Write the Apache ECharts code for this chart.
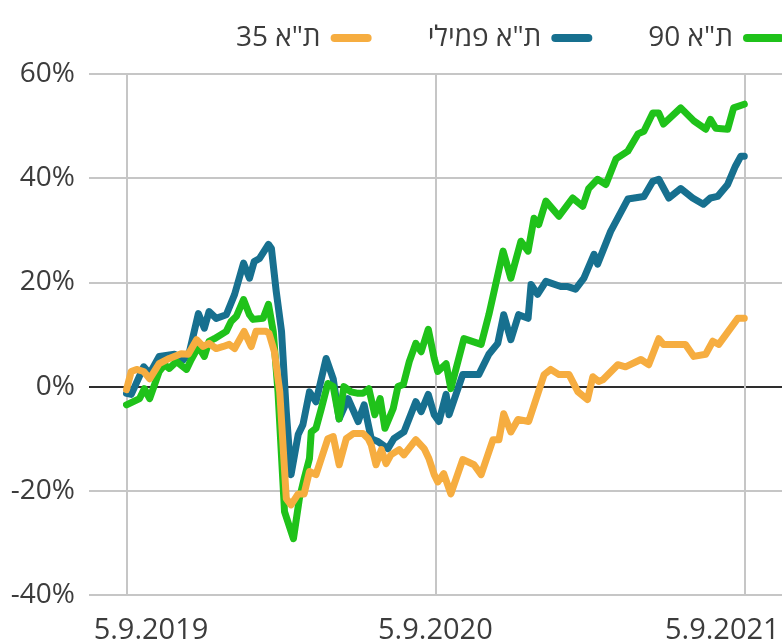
<!DOCTYPE html>
<html lang="he">
<head>
<meta charset="utf-8">
<title>ת"א 35, ת"א פמילי, ת"א 90</title>
<script src="https://cdn.jsdelivr.net/npm/echarts@6/dist/echarts.min.js"></script>
<style>
  html, body { margin: 0; padding: 0; background: #fff; }
  #chart { width: 782px; height: 641px; }
</style>
</head>
<body>
<div id="chart"></div>
<script>
// weeks since 5.9.2019, value = change in %
const dateLabels = ['5.9.2019', '5.9.2020', '5.9.2021']

const ta35 = [
  [0, -0.6], [0.8, 2.9], [1.7, 3.3], [2.9, 2.9], [3.9, 1.5], [5.5, 4.4], [7.2, 5.4], [9.2, 6.3],
  [10.4, 6.2], [11.8, 9], [12.9, 7.7], [13.9, 8.3], [15.1, 7.3], [16.3, 7.7], [17.3, 8.1], [18.2, 7.3],
  [19.8, 10.6], [21, 7.7], [21.8, 10.6], [23.5, 10.6], [24, 10.2], [24.9, 6.7], [25.8, -1], [26.9, -21.5],
  [27.7, -22.7], [28.9, -20.6], [29.9, -20.6], [30.8, -16.3], [31.9, -16.9], [32.8, -13.8], [33.9, -10],
  [34.8, -9.6], [35.8, -15], [37, -10], [38.2, -9], [39.8, -9], [40.7, -10], [41.2, -11.2], [42, -15],
  [42.9, -12.1], [43.7, -14.8], [44.5, -13.1], [45.9, -12.1], [46.7, -13.1], [48.7, -10.2], [50.1, -11.9],
  [50.9, -13.8], [51.8, -16.9], [52.4, -18.3], [53.4, -16.7], [54.6, -20.6], [56.6, -14], [58.5, -15],
  [59.7, -16.9], [61.7, -10.2], [62.7, -10.2], [63.5, -5.2], [64.7, -8.7], [65.9, -6.3], [67.7, -6.7],
  [70.3, 2.3], [71.4, 3.3], [72.8, 2.3], [74.5, 2.3], [76, -1], [77.6, -2.5], [78.5, 1.9], [79.5, 1],
  [80.2, 1.3], [82.7, 4.2], [84, 3.8], [86.6, 5.2], [87.9, 4.2], [89.6, 9.2], [90.4, 8.1], [94.1, 8.1],
  [95.5, 5.8], [97.5, 6.2], [98.7, 8.7], [99.7, 8.1], [101.3, 10.6], [102.9, 13.1], [104, 13.1]
]

const taFamily = [
  [0, -1.3], [0.8, -1.5], [2.9, 3.8], [3.9, 2.5], [5.5, 5.8], [8.1, 6.2], [9.6, 5.2], [10.6, 6.7],
  [12.1, 14], [13.1, 11.2], [13.9, 14.4], [15.1, 13.1], [16.8, 13.8], [18.2, 17.7], [19.7, 23.7],
  [20.7, 20.8], [21.5, 24], [22.4, 24.6], [23.9, 27.3], [24.4, 26.5], [25.2, 18.3], [26.1, 10.6],
  [26.9, -4.8], [27.7, -16.9], [28.9, -9.2], [29.7, -7.3], [30.8, -1], [31.9, -2.9], [33.6, 5.4],
  [34.8, 1.5], [35.8, -6.2], [37.3, -2.3], [39, -6.7], [40, -3.5], [41.2, -10], [42.4, -10.6], [44, -11.9],
  [45, -10], [46.7, -8.7], [48.7, -2.9], [49.6, -4.8], [50.8, -1.5], [51.8, -5.4], [52.6, -6.7],
  [53.8, -1.5], [54.3, -5.4], [56.6, 2.3], [59.3, 2.3], [61, 6.2], [62.5, 8.3], [63.5, 13.8], [64.7, 9],
  [66, 13.8], [67.6, 13.1], [68.1, 19.6], [69.2, 17.7], [70.6, 20.2], [73.1, 19.2], [74.3, 19.2],
  [75.6, 18.7], [77, 20.8], [78.7, 25.4], [79.3, 23.5], [81.5, 29.8], [84.4, 36], [87.1, 36.5],
  [88.6, 39.4], [89.6, 39.8], [91.3, 36.2], [93.3, 38], [95.3, 36.2], [97.1, 35], [98.3, 36.2],
  [99.5, 36.5], [101.2, 38.8], [102.5, 42.3], [103.4, 44.2], [104, 44.2]
]

const ta90 = [
  [0, -3.5], [2.2, -2.3], [3, -0.4], [3.9, -2.3], [5.5, 2.9], [6.4, 4.2], [7.2, 3.5], [8.4, 4.8],
  [10.1, 3.3], [10.9, 5.2], [12.1, 7.7], [13.1, 5.8], [13.9, 8.7], [14.8, 9.2], [16.8, 10.6],
  [17.6, 12.5], [18.5, 13.5], [19.7, 16.7], [20.7, 13.8], [21.3, 12.9], [23, 13.1], [23.9, 15.8],
  [24.7, 10.6], [25.5, -1], [26.6, -24], [28.1, -29.2], [29.1, -21.5], [29.9, -17.7], [30.8, -13.8],
  [31.1, -8.7], [31.9, -8], [32.8, -4.2], [33.9, 0.6], [34.8, 0], [35.8, -6.2], [36.6, 0], [37.8, -1],
  [39, -1.3], [39.8, -1.3], [40.8, -0.4], [41.8, -5.4], [42.7, -2.3], [43.5, -8], [44.9, -4.2],
  [45.7, 0], [46.6, 0.4], [47.6, 4.8], [48.7, 8.3], [49.6, 6.7], [50.8, 11], [51.8, 5.4], [52.4, 2.9],
  [53.8, 4.4], [54.6, -0.4], [56.8, 9.2], [59.7, 8.1], [61, 13.8], [63.4, 26], [64.7, 20.8],
  [66.4, 27.9], [67.6, 26], [68.6, 32.3], [69.4, 31.1], [70.6, 35.6], [72.8, 32.7], [75.1, 36.2],
  [76.8, 34.6], [77.8, 38], [79.3, 39.8], [80.7, 38.8], [82.4, 43.7], [84.4, 45.2], [86.1, 48.5],
  [87.1, 49], [88.6, 52.5], [89.6, 52.5], [90.4, 50.4], [93.3, 53.5], [95.5, 51], [97.5, 49.4],
  [98.3, 51.3], [99.2, 49.6], [101.2, 49.4], [102.2, 53.5], [104, 54.2]
]

const FONT = "'Open Sans', 'Noto Sans', sans-serif"
const TEXT = '#3c3c3c'
const GRID_GREY = '#c6c6c6'

const lineSeries = (name, data, color) => ({
  name,
  type: 'line',
  xAxisIndex: 1,
  yAxisIndex: 1,
  data,
  showSymbol: false,
  color,
  lineStyle: { width: 7, color, cap: 'round', join: 'round' },
  emphasis: { disabled: true },
})

const labelStyle = { fontFamily: FONT, fontSize: 29, color: TEXT }

const chart = echarts.init(document.getElementById('chart'))
chart.setOption({
  animation: false,
  textStyle: { fontFamily: FONT },
  legend: {
    data: ['ת"א 35', 'ת"א פמילי', 'ת"א 90'],
    top: 19,
    right: -7,
    align: 'right',
    itemGap: 56,
    itemWidth: 41,
    itemHeight: 8,
    icon: 'path://M4,0 L37,0 A4,4 0 0 1 37,8 L4,8 A4,4 0 0 1 4,0 Z',
    textStyle: { fontFamily: FONT, fontSize: 28, color: TEXT, padding: [0, 5, 0, 0] },
  },
  grid: [
    { left: 89, right: 0, top: 74, bottom: 46, outerBoundsMode: 'none' },
    { left: 126.5, right: 37.7, top: 74, bottom: 46, outerBoundsMode: 'none' },
  ],
  xAxis: [
    { type: 'value', gridIndex: 0, show: false, min: 0, max: 1 },
    {
      type: 'value',
      gridIndex: 1,
      min: 0,
      max: 104,
      interval: 52,
      axisLine: { show: false },
      axisTick: { show: true, length: 6, lineStyle: { color: GRID_GREY, width: 2 } },
      splitLine: { show: true, lineStyle: { color: GRID_GREY, width: 2 } },
      axisLabel: {
        margin: 21,
        formatter: (v) => {
          const i = Math.round(v / 52)
          return `{d${i}|${dateLabels[i]}}`
        },
        rich: {
          d0: { ...labelStyle, padding: [0, 0, 0, 49] },
          d1: { ...labelStyle },
          d2: { ...labelStyle, padding: [0, 44, 0, 0] },
        },
      },
    },
  ],
  yAxis: [
    {
      type: 'value',
      gridIndex: 0,
      min: -40,
      max: 60,
      interval: 20,
      axisLine: { show: false },
      axisTick: { show: false },
      splitLine: {
        show: true,
        lineStyle: { width: 2, color: [GRID_GREY, GRID_GREY, '#2e2e2e', GRID_GREY, GRID_GREY, GRID_GREY] },
      },
      axisLabel: { margin: 14, formatter: '{value}%', fontFamily: FONT, fontSize: 28, color: TEXT },
    },
    { type: 'value', gridIndex: 1, min: -40, max: 60, interval: 20, show: false, splitLine: { show: false } },
  ],
  series: [
    lineSeries('ת"א פמילי', taFamily, '#17708f'),
    lineSeries('ת"א 90', ta90, '#1fc21a'),
    lineSeries('ת"א 35', ta35, '#f6ad40'),
  ],
})
</script>
</body>
</html>
